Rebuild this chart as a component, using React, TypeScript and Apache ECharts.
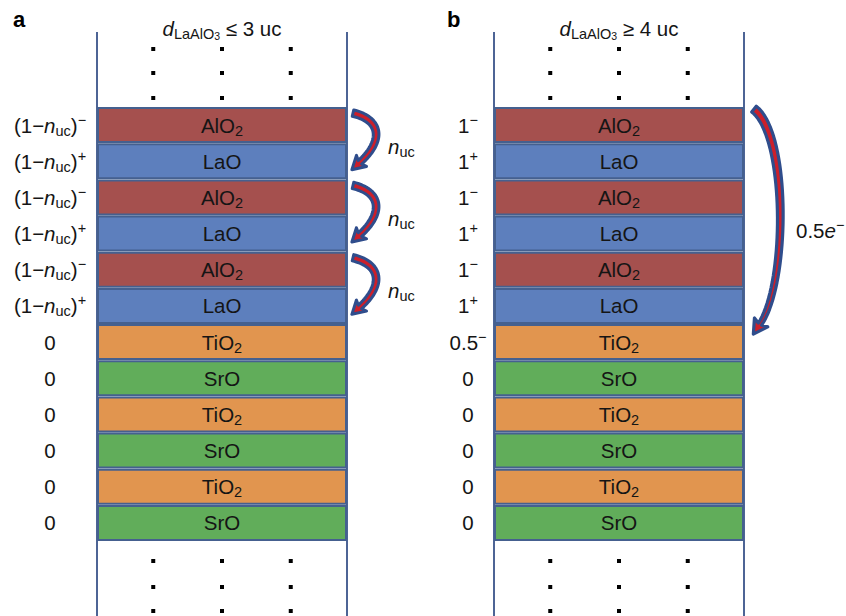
import React, { useEffect, useRef } from 'react';
import * as echarts from 'echarts';

// ---------- data ----------
const layers = ['AlO2', 'LaO', 'AlO2', 'LaO', 'AlO2', 'LaO', 'TiO2', 'SrO', 'TiO2', 'SrO', 'TiO2', 'SrO'];
const layerLabels: Record<string, string> = {
  AlO2: 'AlO{sub|2}',
  LaO: 'LaO',
  TiO2: 'TiO{sub|2}',
  SrO: 'SrO',
};
const layerColors: Record<string, string> = {
  AlO2: '#a5504e',
  LaO: '#5d7fbd',
  TiO2: '#e1954f',
  SrO: '#61ad5a',
};
const layerFill = [1, 1, 1, 1, 1, 1, 1, 1, 1, 1, 1, 1];
const chargesA = [
  '(1−{i|n}{sub|uc}){sup|−}',
  '(1−{i|n}{sub|uc}){sup|+}',
  '(1−{i|n}{sub|uc}){sup|−}',
  '(1−{i|n}{sub|uc}){sup|+}',
  '(1−{i|n}{sub|uc}){sup|−}',
  '(1−{i|n}{sub|uc}){sup|+}',
  '0', '0', '0', '0', '0', '0',
];
const chargesB = [
  '1{sup|−}', '1{sup|+}', '1{sup|−}', '1{sup|+}', '1{sup|−}', '1{sup|+}',
  '0.5{sup|−}', '0', '0', '0', '0', '0',
];
const titleA = '{i|d}{tsub|LaAlO}{tsub2|3}{m| ≤ 3 uc}';
const titleB = '{i|d}{tsub|LaAlO}{tsub2|3}{m| ≥ 4 uc}';
const transfersA: [number, number][] = [[0, 1], [2, 3], [4, 5]];
const transferLabelA = '{i|n}{sub|uc}';
const transferB: [number, number] = [0, 6];
const transferLabelB = '0.5{i|e}{sup|−}';

// ---------- style ----------
const FONT = '"Liberation Sans", Arial, Helvetica, sans-serif';
const TXT = '#151515';
const BORDER = '#45608f';
const NAVY = '#2f4d8c';
const RED = '#cc1f2a';

const rich: any = {
  i: { fontStyle: 'italic', fontSize: 20.5, lineHeight: 26, fontFamily: FONT, color: TXT, fill: TXT },
  m: { fontSize: 20.5, lineHeight: 26, fontFamily: FONT, color: TXT, fill: TXT },
  sub: { fontSize: 14.5, lineHeight: 12, verticalAlign: 'bottom', fontFamily: FONT, color: TXT, fill: TXT },
  sup: { fontSize: 14.5, lineHeight: 14, verticalAlign: 'top', fontFamily: FONT, color: TXT, fill: TXT },
  tsub: { fontSize: 14.5, lineHeight: 10, verticalAlign: 'bottom', fontFamily: FONT, color: TXT, fill: TXT },
  tsub2: { fontSize: 10.5, lineHeight: 4, verticalAlign: 'bottom', fontFamily: FONT, color: TXT, fill: TXT },
};

const GRID_TOP = 107;
const GRID_H = 434;
const GRID_W = 250;
const LEFT_A = 97;
const LEFT_B = 494;

function cubic(p0: number[], p1: number[], p2: number[], p3: number[], t: number) {
  const u = 1 - t;
  return [
    u * u * u * p0[0] + 3 * u * u * t * p1[0] + 3 * u * t * t * p2[0] + t * t * t * p3[0],
    u * u * u * p0[1] + 3 * u * u * t * p1[1] + 3 * u * t * t * p2[1] + t * t * t * p3[1],
  ];
}
function cubicD(p0: number[], p1: number[], p2: number[], p3: number[], t: number) {
  const u = 1 - t;
  const dx = 3 * u * u * (p1[0] - p0[0]) + 6 * u * t * (p2[0] - p1[0]) + 3 * t * t * (p3[0] - p2[0]);
  const dy = 3 * u * u * (p1[1] - p0[1]) + 6 * u * t * (p2[1] - p1[1]) + 3 * t * t * (p3[1] - p2[1]);
  const l = Math.hypot(dx, dy) || 1;
  return [dx / l, dy / l];
}
function arrowPoints(p0: number[], p1: number[], p2: number[], p3: number[], w0: number, w1: number, headLen: number, headHalf: number) {
  const N = 40;
  const left: number[][] = [];
  const right: number[][] = [];
  for (let k = 0; k <= N; k++) {
    const t = k / N;
    const p = cubic(p0, p1, p2, p3, t);
    const d = cubicD(p0, p1, p2, p3, t);
    const nx = -d[1];
    const ny = d[0];
    const w = (w0 + (w1 - w0) * t) / 2;
    left.push([p[0] + nx * w, p[1] + ny * w]);
    right.push([p[0] - nx * w, p[1] - ny * w]);
  }
  const d = cubicD(p0, p1, p2, p3, 1);
  const n = [-d[1], d[0]];
  const back = 2;
  const tip = [p3[0] + d[0] * headLen, p3[1] + d[1] * headLen];
  const wl = [p3[0] + n[0] * headHalf - d[0] * back, p3[1] + n[1] * headHalf - d[1] * back];
  const wr = [p3[0] - n[0] * headHalf - d[0] * back, p3[1] - n[1] * headHalf - d[1] * back];
  return [...left, wl, tip, wr, ...right.reverse()];
}

function axisLabelCfg(list: string[], margin: number) {
  return {
    interval: 0,
    margin,
    align: 'center',
    formatter: (_v: string, i: number) => list[i],
    fontSize: 20.5,
    lineHeight: 26,
    fontFamily: FONT,
    color: TXT,
    rich,
  };
}

function barSeries(idx: number) {
  return {
    type: 'bar',
    xAxisIndex: idx,
    yAxisIndex: idx,
    barWidth: 36,
    data: layers.map((l, i) => ({ value: layerFill[i], itemStyle: { color: layerColors[l] } })),
    itemStyle: { borderColor: BORDER, borderWidth: 2 },
    label: {
      show: true,
      position: 'inside',
      formatter: (p: any) => layerLabels[layers[p.dataIndex]],
      fontSize: 20.5,
      lineHeight: 26,
      fontFamily: FONT,
      color: TXT,
      rich,
    },
    silent: true,
  };
}

export default function App() {
  const ref = useRef<HTMLDivElement>(null);
  useEffect(() => {
    if (!ref.current) return;
    const chart = echarts.init(ref.current, undefined, { renderer: 'svg' });
    const cats = layers.map((_, i) => String(i));
    chart.setOption({
      animation: false,
      backgroundColor: '#ffffff',
      grid: [
        { left: LEFT_A, top: GRID_TOP, width: GRID_W, height: GRID_H },
        { left: LEFT_B, top: GRID_TOP, width: GRID_W, height: GRID_H },
      ],
      xAxis: [
        { gridIndex: 0, type: 'value', min: 0, max: 1, show: false },
        { gridIndex: 1, type: 'value', min: 0, max: 1, show: false },
      ],
      yAxis: [
        {
          gridIndex: 0, type: 'category', inverse: true, data: cats,
          axisLine: { show: false }, axisTick: { show: false }, splitLine: { show: false },
          axisLabel: axisLabelCfg(chargesA, 47),
        },
        {
          gridIndex: 1, type: 'category', inverse: true, data: cats,
          axisLine: { show: false }, axisTick: { show: false }, splitLine: { show: false },
          axisLabel: axisLabelCfg(chargesB, 26),
        },
      ],
      series: [barSeries(0), barSeries(1)],
    });

    // annotations positioned from the axes
    const rowY = (i: number) => chart.convertToPixel({ yAxisIndex: 0 } as any, i) as unknown as number;
    const rightA = chart.convertToPixel({ xAxisIndex: 0 } as any, 1) as unknown as number;
    const leftA = chart.convertToPixel({ xAxisIndex: 0 } as any, 0) as unknown as number;
    const rightB = chart.convertToPixel({ xAxisIndex: 1 } as any, 1) as unknown as number;
    const leftB = chart.convertToPixel({ xAxisIndex: 1 } as any, 0) as unknown as number;

    const g: any[] = [];
    // box side lines
    [leftA, rightA, leftB, rightB].forEach((x) => {
      g.push({ type: 'line', z: 1, shape: { x1: x, y1: 32, x2: x, y2: 616 }, style: { stroke: '#4d6495', lineWidth: 2 } });
    });
    // continuation dots
    const dotRows = [GRID_TOP - 58, GRID_TOP - 34, GRID_TOP - 9, GRID_TOP + GRID_H + 20, GRID_TOP + GRID_H + 46, GRID_TOP + GRID_H + 70];
    [[leftA, rightA], [leftB, rightB]].forEach(([l, r]) => {
      [0.225, 0.5, 0.775].forEach((f) => {
        dotRows.forEach((y) => {
          g.push({ type: 'rect', z: 5, shape: { x: l + (r - l) * f - 2, y: y - 2, width: 4, height: 4 }, style: { fill: '#000' } });
        });
      });
    });
    // panel letters
    g.push({ type: 'text', x: 13, y: 19, style: { text: 'a', fontSize: 22, fontWeight: 'bold', fontFamily: FONT, fill: '#000', verticalAlign: 'middle', align: 'left' } });
    g.push({ type: 'text', x: 447, y: 19, style: { text: 'b', fontSize: 22, fontWeight: 'bold', fontFamily: FONT, fill: '#000', verticalAlign: 'middle', align: 'left' } });
    // titles
    g.push({ type: 'text', x: (leftA + rightA) / 2, y: 28, style: { text: titleA, rich, fontSize: 20.5, lineHeight: 26, fontFamily: FONT, fill: TXT, align: 'center', verticalAlign: 'middle' } });
    g.push({ type: 'text', x: (leftB + rightB) / 2, y: 28, style: { text: titleB, rich, fontSize: 20.5, lineHeight: 26, fontFamily: FONT, fill: TXT, align: 'center', verticalAlign: 'middle' } });

    // transfer arrows, panel a
    transfersA.forEach(([a, b]) => {
      const cA = rowY(a);
      const cB = rowY(b);
      const R = rightA;
      const pts = arrowPoints([R + 6, cA - 12], [R + 35, cA - 5], [R + 36, cB - 20], [R + 13, cB + 1], 6.5, 5, 11, 7.5);
      g.push({ type: 'polygon', z: 6, shape: { points: pts }, style: { fill: RED, stroke: NAVY, lineWidth: 3, lineJoin: 'round' } });
      g.push({ type: 'text', x: R + 41, y: cA + 21, style: { text: transferLabelA, rich, fontSize: 20.5, lineHeight: 26, fontFamily: FONT, fill: TXT, align: 'left', verticalAlign: 'middle' } });
    });
    // transfer arrow, panel b
    {
      const c0 = rowY(transferB[0]);
      const c6 = rowY(transferB[1]);
      const R = rightB;
      const pts = arrowPoints([R + 10, c0 - 16], [R + 44, c0 + 10], [R + 44, c6 - 60], [R + 16, c6 - 18], 7.5, 4, 12, 8);
      g.push({ type: 'polygon', z: 6, shape: { points: pts }, style: { fill: RED, stroke: NAVY, lineWidth: 3.2, lineJoin: 'round' } });
      g.push({ type: 'text', x: R + 52, y: rowY(3) - 3, style: { text: transferLabelB, rich, fontSize: 20.5, lineHeight: 26, fontFamily: FONT, fill: TXT, align: 'left', verticalAlign: 'middle' } });
    }

    chart.setOption({ graphic: g });
    return () => chart.dispose();
  }, []);
  return <div ref={ref} style={{ position: 'fixed', left: 0, top: 0, width: 846, height: 616 }} />;
}
